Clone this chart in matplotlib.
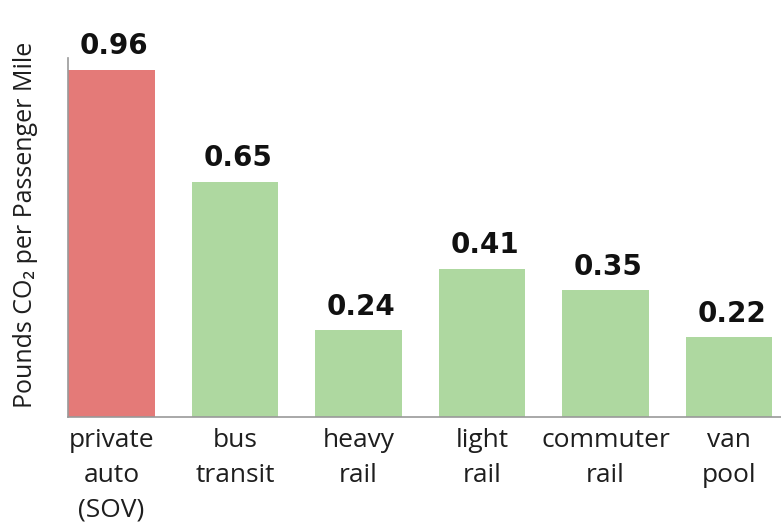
import matplotlib
matplotlib.use("Agg")
import matplotlib.pyplot as plt

modes = ["private\nauto\n(SOV)", "bus\ntransit", "heavy\nrail", "light\nrail",
         "commuter\nrail", "van\npool"]
co2_per_mile = [0.96, 0.65, 0.24, 0.41, 0.35, 0.22]
bar_colors = ["#e47a78", "#aed8a0", "#aed8a0", "#aed8a0", "#aed8a0", "#aed8a0"]

plt.rcParams["font.family"] = ["Open Sans", "DejaVu Sans"]

fig = plt.figure(figsize=(7.81, 5.26), dpi=100)
ax = fig.add_axes([0.0871, 0.2072, 0.9129, 0.6825])

x = range(len(modes))
bars = ax.bar(x, co2_per_mile, width=0.7, color=bar_colors)

for rect, v in zip(bars, co2_per_mile):
    ax.annotate(f"{v:.2f}", (rect.get_x() + rect.get_width() / 2, v),
                xytext=(2, 7), textcoords="offset points",
                ha="center", va="bottom", fontsize=20, fontweight="bold",
                family="DejaVu Sans", color="#111111")

ax.set_xlim(-0.352, 5.42)
ax.set_ylim(0, 0.993)

ax.set_xticks(list(x))
ax.set_xticklabels(modes, fontsize=19, color="#1e1e1e", linespacing=1.52, va="top")
ax.tick_params(axis="x", length=0, pad=8)
ax.set_yticks([])

ax.set_ylabel("Pounds CO\u2082 per Passenger Mile", fontsize=18, color="#1e1e1e")
ax.yaxis.set_label_coords(-0.042, 0.535)

for side in ["top", "right"]:
    ax.spines[side].set_visible(False)
for side in ["left", "bottom"]:
    ax.spines[side].set_color("#999999")
    ax.spines[side].set_linewidth(1.2)

fig.savefig("out.png", dpi=100)
